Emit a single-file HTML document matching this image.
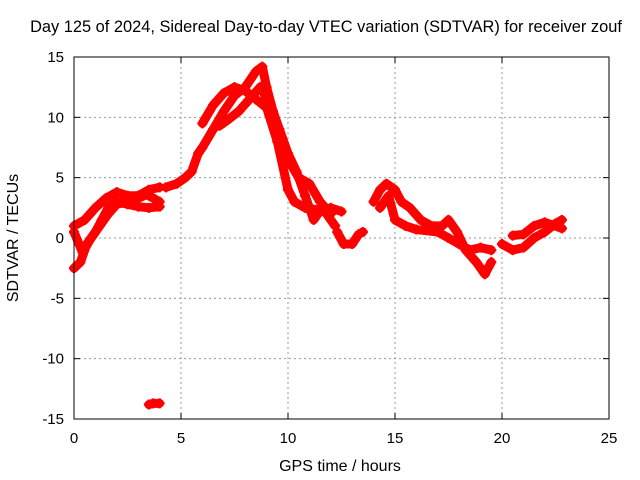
<!DOCTYPE html>
<html><head><meta charset="utf-8"><style>
body{margin:0;background:#fff;}
svg{display:block;font-family:"Liberation Sans",sans-serif;}
</style></head><body>
<svg id="chart" width="640" height="480">
<rect width="640" height="480" fill="#fff"/>
<text x="326" y="32" font-size="16.4" text-anchor="middle">Day 125 of 2024, Sidereal Day-to-day VTEC variation (SDTVAR) for receiver zouf</text>
<text x="340" y="471" font-size="16" text-anchor="middle">GPS time / hours</text>
<text x="18" y="238" font-size="16" text-anchor="middle" transform="rotate(-90 18 238)">SDTVAR / TECUs</text>
<g id="grid"></g><g id="axes"></g><g id="marks"></g>
<rect x="74" y="57" width="535" height="362" fill="none" stroke="#000" stroke-width="1"/>
</svg>
<script>
const xTicks=[0,5,10,15,20,25];
const yTicks=[-15,-10,-5,0,5,10,15];
const traceA=[[0,-2.5],[0.3,-2],[0.6,-0.5],[1,0.5],[1.3,1.5],[1.6,2.5],[2,3],[2.5,2.8],[3,2.6],[3.5,2.5],[4,2.6]];
const traceB=[[0,1],[0.5,1.5],[1,2.5],[1.5,3.3],[2,3.8],[2.5,3.5],[3,3.5],[3.5,4],[4,4.2]];
const traceC=[[0,0.5],[0.4,-1.2],[0.8,0],[1.2,1],[1.6,2],[2,2.8],[2.5,3],[3,3.3],[3.4,3.6],[3.8,3.2],[4,3]];
const traceD=[[4.3,4.2],[4.8,4.5],[5.2,5],[5.5,5.5],[5.8,7],[6,7.5],[6.5,9],[7,10.5],[7.5,11.8],[8,12.5],[8.5,13.8],[8.8,14.2],[9,12.5],[9.3,10.5],[9.7,8],[10,6.5],[10.5,5],[11,4.5],[11.5,3],[12,2]];
const traceE=[[6,9.5],[6.5,11],[7,12],[7.5,12.5],[8,12.2],[8.5,11.5],[9,10.8],[9.5,8],[10,4],[10.3,3],[10.8,2.5],[11.5,2.3],[12,2.5],[12.5,2.2]];
const traceF=[[6.8,9.3],[7.2,9.8],[7.7,10.5],[8.2,11.5],[8.7,12.5],[9.2,11],[9.6,9],[10,7],[10.4,5.5],[10.8,3.5],[11.2,1.5],[11.6,2.5],[12.2,1]];
const traceG=[[12.3,0.5],[12.6,-0.5],[13,-0.5],[13.3,0.3],[13.5,0.5]];
const traceH=[[14,3],[14.3,4],[14.6,4.5],[15,4],[15.3,3],[15.7,2.5],[16.2,1.5],[16.7,1],[17.2,1],[17.5,1.5],[17.9,0.5],[18.3,-1],[18.8,-2],[19.2,-3],[19.5,-2]];
const traceI=[[14.3,2.5],[14.7,3.5],[15,1.5],[15.5,1],[16,0.7],[17,0.5],[17.5,0],[18,-0.5],[18.5,-1],[19,-0.8],[19.5,-1]];
const traceJ=[[20,-0.5],[20.5,-1],[21,-0.8],[21.5,0],[22,0.5],[22.5,1.2],[22.8,1.5]];
const traceK=[[20.5,0.2],[21,0.3],[21.5,1],[22,1.3],[22.8,0.8]];
const traceL=[[3.5,-13.8],[3.7,-13.7],[4,-13.7]];
const traces=[traceA,traceB,traceC,traceD,traceE,traceF,traceG,traceH,traceI,traceJ,traceK,traceL];
const X0=74,X1=609,Y0=419,Y1=57;
function sx(v){return X0+(v-0)/(25-0)*(X1-X0);}
function sy(v){return Y0-(v+15)/30*(Y0-Y1);}
const NS="http://www.w3.org/2000/svg";
const grid=document.getElementById('grid'),axes=document.getElementById('axes'),marks=document.getElementById('marks');
function mk(t,a,p){const e=document.createElementNS(NS,t);for(const k in a)e.setAttribute(k,a[k]);p.appendChild(e);return e;}
xTicks.forEach(t=>{
 const x=sx(t);
 if(t>0&&t<25){const g=mk('line',{x1:x,x2:x,y1:Y1,y2:Y0,stroke:'#999','stroke-dasharray':'2,3'},grid);
 
 }
 mk('line',{x1:x,x2:x,y1:Y0,y2:Y0-6,stroke:'#000'},axes);
 mk('line',{x1:x,x2:x,y1:Y1,y2:Y1+6,stroke:'#000'},axes);
 const l=mk('text',{x:x,y:Y0+24,'font-size':15,'text-anchor':'middle'},axes);l.textContent=t;
 
 
});
yTicks.forEach(t=>{
 const y=sy(t);
 if(t>-15&&t<15){const g=mk('line',{x1:X0,x2:X1,y1:y,y2:y,stroke:'#999','stroke-dasharray':'2,3'},grid);
 
 }
 mk('line',{x1:X0,x2:X0+6,y1:y,y2:y,stroke:'#000'},axes);
 mk('line',{x1:X1,x2:X1-6,y1:y,y2:y,stroke:'#000'},axes);
 const l=mk('text',{x:X0-10,y:y+5,'font-size':15,'text-anchor':'end'},axes);l.textContent=t;
 
 
});
traces.forEach(tr=>{
 const pl=mk('polyline',{points:tr.map(p=>sx(p[0])+','+sy(p[1])).join(' '),fill:'none',stroke:'#f00','stroke-width':9,'stroke-linejoin':'round','stroke-linecap':'round'},marks);
 
 
 tr.forEach(p=>{
  const x=sx(p[0]),y=sy(p[1]);
  const m=mk('path',{d:`M${x-5},${y}H${x+5}M${x},${y-5}V${y+5}`,stroke:'#f00','stroke-width':2.5},marks);
  
  
 });
});
</script>
</body></html>
